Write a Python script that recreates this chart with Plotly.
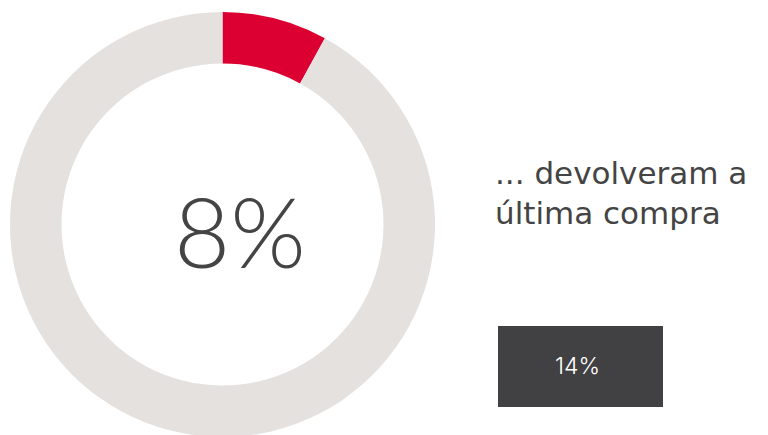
import plotly.graph_objects as go

labels = ["Devolveram", "Não devolveram"]
values = [8, 92]
slice_colors = ["#DC0032", "#E4E1DF"]
center_label = "8%"
side_text = ["... devolveram a", "última compra"]
compare_label = "14%"

W, H = 768, 435
OFF = 8  # page body margin
cx, cy, r = 222.5 - OFF, 224.5 - OFF, 212.5

def px(x):
    return (x - OFF) / W

def py(y):
    return 1 - (y - OFF) / H

fig = go.Figure()
fig.add_trace(go.Pie(
    labels=labels, values=values, sort=False, direction="clockwise", rotation=0,
    hole=161 / 212.5, marker=dict(colors=slice_colors, line=dict(width=0)),
    textinfo="none", hoverinfo="label+value", showlegend=False,
    domain=dict(x=[(cx - r) / W, (cx + r) / W], y=[(H - cy - r) / H, (H - cy + r) / H]),
))

fig.add_annotation(x=px(240), y=py(230), xref="paper", yref="paper",
                   text=center_label, showarrow=False, xanchor="center", yanchor="middle",
                   font=dict(family="Lato", size=97, color="#444444", weight=300))

fig.add_annotation(x=px(493), y=py(193), xref="paper", yref="paper",
                   text="<br>".join(side_text), showarrow=False, xanchor="left", yanchor="middle",
                   align="left", font=dict(family="DejaVu Sans", size=31, color="#444444"))

fig.add_shape(type="rect", xref="paper", yref="paper",
              x0=px(498), x1=px(663), y0=py(407), y1=py(326),
              fillcolor="#414042", line=dict(width=0))
fig.add_annotation(x=px(577), y=py(366), xref="paper", yref="paper",
                   text=compare_label, showarrow=False, xanchor="center", yanchor="middle",
                   font=dict(family="Inter", size=23, color="#FFFFFF", weight=300))

fig.update_layout(width=W, height=H, margin=dict(l=0, r=0, t=0, b=0),
                  paper_bgcolor="white", plot_bgcolor="white")
fig.write_html("out.html")
